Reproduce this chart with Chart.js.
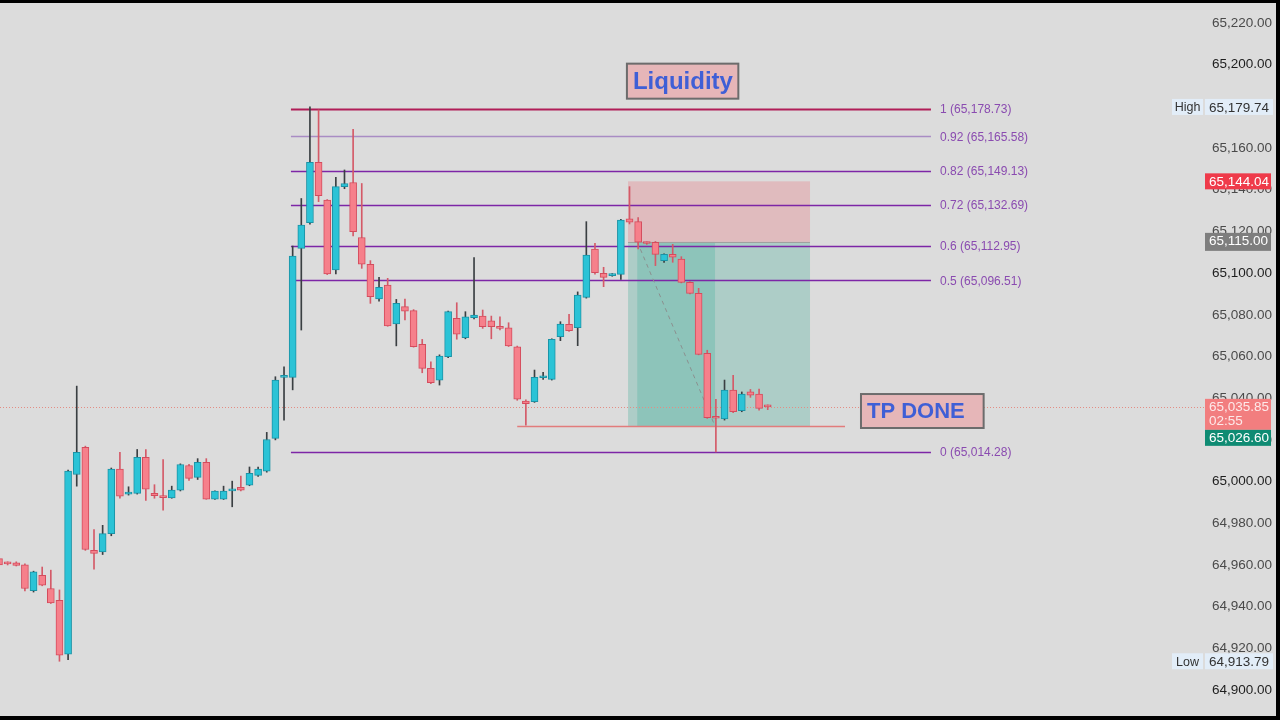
<!DOCTYPE html>
<html>
<head>
<meta charset="utf-8">
<script src="https://cdn.jsdelivr.net/npm/chart.js@4.4.1/dist/chart.umd.min.js"></script>
<style>
  html, body { margin: 0; padding: 0; background: #000; }
  #wrap { position: absolute; left: 0; top: 3px; width: 1276px; height: 713px; background: #dcdcdc; }
</style>
</head>
<body>
<div id="wrap"><canvas id="priceChart" width="1276" height="713"></canvas></div>
<script>
// candles, oldest first
const opens = [64963, 64961, 64961, 64960, 64947.6, 64955, 64948.7, 64943, 64917.2, 65003.4,
  65016.4, 64967, 64966.3, 64975, 65006, 64994, 64994.3, 65011.6, 64994.3, 64992.6,
  64992.2, 64995.9, 65007.7, 65002, 65009.2, 64991.6, 64991.6, 64995.5, 64997.2, 64998.3,
  65003, 65005, 65020.7, 65050, 65050, 65111.9, 65124.2, 65153.1, 65135, 65101.5,
  65141.5, 65143.5, 65117.1, 65104.2, 65087.6, 65094.3, 65075.6, 65083.9, 65082, 65065.8,
  65054.3, 65048.7, 65059.9, 65078.3, 65069, 65078.6, 65079.4, 65077.1, 65074.3, 65073.8,
  65064.7, 65038.6, 65038.3, 65049.8, 65049, 65069.5, 65075.4, 65073.8, 65088.4, 65111.6,
  65099.9, 65098.8, 65099.4, 65126, 65124.7, 65114.5, 65114.8, 65106, 65109, 65106.8,
  65095.6, 65090.3, 65061.5, 65030.8, 65030, 65043.9, 65034, 65043.1, 65042, 65036];
const highs = [64964, 64961.5, 64961.5, 64960.5, 64957, 64959, 64957.5, 64948, 65005.5, 65045.8,
  65017, 64977, 64979, 65006.5, 65014, 64997.5, 65015.4, 65015.4, 64998.5, 65010.6,
  64997.8, 65008.5, 65008.3, 65011, 65011, 64995.6, 64997.8, 65000.2, 65002.6, 65007,
  65007, 65023.6, 65050.3, 65055, 65113, 65135.8, 65179.74, 65178.3, 65135.3, 65146,
  65149.5, 65169, 65143, 65106, 65098, 65097.5, 65087.4, 65087.6, 65082.5, 65068.2,
  65057.5, 65060.8, 65081.8, 65085.8, 65081.5, 65107.5, 65082.3, 65079.4, 65079, 65076.2,
  65065, 65039.2, 65053.5, 65052.4, 65068.5, 65076.7, 65080.2, 65091, 65124.7, 65114.3,
  65102.8, 65099.8, 65125.8, 65141.5, 65126.6, 65115, 65115.2, 65109.3, 65113.8, 65107.9,
  65096, 65092.7, 65063, 65039.4, 65048.7, 65051, 65043, 65044.2, 65044.4, 65036.8];
const lows = [64959, 64960, 64959.5, 64947.5, 64947, 64950, 64941.5, 64913.79, 64914.5, 64997.8,
  64967, 64958, 64965, 64974, 64992, 64993.5, 64994, 64991, 64992, 64986.3,
  64992, 64995.5, 65000.5, 65001, 64991.5, 64991.4, 64991.4, 64987.9, 64995.5, 64998,
  65002.5, 65004.5, 65020, 65029.5, 65044, 65072.7, 65123.5, 65134.3, 65099.3, 65099.6,
  65140.5, 65117.8, 65102.3, 65085.5, 65086.6, 65074.5, 65065.1, 65077.5, 65064.5, 65052.2,
  65047, 65046.3, 65059.5, 65068.3, 65068.5, 65078, 65073.5, 65068.5, 65072.8, 65064.8,
  65039, 65027, 65038, 65049, 65048.7, 65067.6, 65072, 65065.2, 65088, 65099.5,
  65093.5, 65098.5, 65097, 65123.6, 65111.6, 65113.8, 65103.6, 65105.2, 65105.2, 65095.3,
  65090, 65060.8, 65030.3, 65014.28, 65029.5, 65033, 65033.5, 65040.4, 65034.3, 65034.5];
const closes = [64960, 64960.5, 64959.8, 64948.7, 64956.7, 64950.3, 64941.8, 64916.7, 65005, 65014,
  64967.4, 64965.5, 64975, 65006, 64993, 64995, 65011.6, 64996.4, 64993.2, 64992.3,
  64995.9, 65008.2, 65001.5, 65009.2, 64991.6, 64995.4, 64995.4, 64996, 64995.9, 65003.9,
  65006, 65020.2, 65048.7, 65050.5, 65108.2, 65123, 65153.1, 65137.2, 65099.6, 65141.5,
  65143, 65119.9, 65104.3, 65088.7, 65093.2, 65074.7, 65085.5, 65081.8, 65064.7, 65054.3,
  65047.5, 65060.2, 65081.5, 65070.7, 65079, 65079.9, 65074.3, 65074.3, 65073.5, 65065.1,
  65039.5, 65037.4, 65050, 65050.2, 65068.2, 65075.6, 65072.4, 65089.5, 65108.7, 65100.2,
  65098, 65099.2, 65125.5, 65124.4, 65114.8, 65114.2, 65109, 65109, 65107.6, 65095.6,
  65090.3, 65061, 65030.6, 65030.4, 65043.9, 65033.5, 65042, 65041.5, 65035.1, 65035.85];

// price axis
const tickValues = [65220, 65200, 65180, 65160, 65140, 65120, 65100, 65080, 65060, 65040,
  65020, 65000, 64980, 64960, 64940, 64920, 64900];

// fib retracement
const fibRatios = [1, 0.92, 0.82, 0.72, 0.6, 0.5, 0];
const fibPrices = [65178.73, 65165.58, 65149.13, 65132.69, 65112.95, 65096.51, 65014.28];

// short position
const stopPrice = 65144.04;
const entryPrice = 65115.00;
const targetPrice = 65026.60;
const lastPrice = 65035.85;
const countdown = '02:55';
const highPrice = 65179.74;
const lowPrice = 64913.79;

const upFill = '#2bc3d6', upLine = '#1b93a6', upWick = '#3a3f42';
const downFill = '#f6808b', downLine = '#d44c5d', downWick = '#d45a68';
const font = '"Liberation Sans", Arial, sans-serif';

const fmt = v => v.toFixed(2).replace(/\B(?=(\d{3})+(?!\d))/g, ',');
const isUp = i => closes[i] >= opens[i];

const overlays = {
  id: 'overlays',
  beforeDatasetsDraw(chart) {
    const { ctx, chartArea: a, scales: { x, y } } = chart;
    ctx.save();
    ctx.beginPath();
    ctx.rect(a.left, a.top, a.right - a.left, a.bottom - a.top);
    ctx.clip();

    // position zones
    const pl = x.getPixelForValue(72.83), pr = x.getPixelForValue(93.9);
    const ys = y.getPixelForValue(stopPrice), ye = y.getPixelForValue(entryPrice), yt = y.getPixelForValue(targetPrice);
    ctx.fillStyle = 'rgba(242, 54, 69, 0.2)';
    ctx.fillRect(pl, ys, pr - pl, ye - ys);
    ctx.fillStyle = 'rgba(8, 153, 129, 0.22)';
    ctx.fillRect(pl, ye, pr - pl, yt - ye);
    const hl = x.getPixelForValue(73.9), hr = x.getPixelForValue(82.9);
    ctx.fillStyle = 'rgba(8, 153, 129, 0.2)';
    ctx.fillRect(hl, ye, hr - hl, yt - ye);
    ctx.strokeStyle = '#a0a0a0';
    ctx.lineWidth = 1;
    ctx.beginPath();
    ctx.moveTo(pl, Math.round(ye) + 0.5);
    ctx.lineTo(pr, Math.round(ye) + 0.5);
    ctx.stroke();

    // fib lines
    const fl = x.getPixelForValue(33.8), fr = x.getPixelForValue(107.9);
    fibPrices.forEach((p, k) => {
      const py = Math.round(y.getPixelForValue(p)) + 0.5;
      ctx.strokeStyle = k === 0 ? '#b01d57' : (k === 1 ? '#a98cc4' : '#7d26a6');
      ctx.lineWidth = k === 0 ? 2 : 1.5;
      ctx.beginPath();
      ctx.moveTo(fl, py);
      ctx.lineTo(fr, py);
      ctx.stroke();
    });
    ctx.restore();

    ctx.save();
    // current price dotted line
    const yl = Math.round(y.getPixelForValue(lastPrice)) + 0.5;
    ctx.strokeStyle = '#e38d84';
    ctx.lineWidth = 1;
    ctx.setLineDash([1, 2]);
    ctx.beginPath();
    ctx.moveTo(a.left, yl);
    ctx.lineTo(a.right + 5, yl);
    ctx.stroke();
    ctx.setLineDash([]);

    // trend line at target
    ctx.strokeStyle = '#e27c7c';
    ctx.lineWidth = 1.5;
    ctx.beginPath();
    ctx.moveTo(x.getPixelForValue(60), Math.round(yt) + 0.5);
    ctx.lineTo(x.getPixelForValue(97.95), Math.round(yt) + 0.5);
    ctx.stroke();

    // path of the trade
    ctx.strokeStyle = '#8a8f8e';
    ctx.lineWidth = 1;
    ctx.setLineDash([4, 4]);
    ctx.beginPath();
    ctx.moveTo(x.getPixelForValue(73.9), ye);
    ctx.lineTo(x.getPixelForValue(82.9), yt);
    ctx.stroke();
    ctx.restore();
  },
  afterDatasetsDraw(chart) {
    const { ctx, scales: { x, y } } = chart;
    ctx.save();
    // fib labels
    ctx.font = '12px ' + font;
    ctx.fillStyle = '#8a4bb0';
    ctx.textAlign = 'left';
    ctx.textBaseline = 'middle';
    const lx = x.getPixelForValue(108.95);
    fibPrices.forEach((p, k) => {
      ctx.fillText(fibRatios[k] + ' (' + fmt(p) + ')', lx, y.getPixelForValue(p) + 1);
    });

    // note boxes
    const note = (text, i0, i1, p0, p1, size) => {
      const l = x.getPixelForValue(i0), r = x.getPixelForValue(i1);
      const t = y.getPixelForValue(p0), b = y.getPixelForValue(p1);
      ctx.fillStyle = '#e6b6b8';
      ctx.fillRect(l, t, r - l, b - t);
      ctx.strokeStyle = '#6c6c6c';
      ctx.lineWidth = 2;
      ctx.strokeRect(l, t, r - l, b - t);
      ctx.fillStyle = '#3f5fd6';
      ctx.font = 'bold ' + size + 'px ' + font;
      ctx.textBaseline = 'middle';
      ctx.fillText(text, l + 6, (t + b) / 2 + 1);
    };
    note('Liquidity', 72.7, 85.6, 65200.5, 65183.7, 24);
    note('TP DONE', 99.8, 114.0, 65042, 65025.7, 22);
    ctx.restore();
  },
  afterDraw(chart) {
    const { ctx, scales: { y } } = chart;
    ctx.save();
    ctx.textBaseline = 'middle';
    ctx.textAlign = 'left';
    const tag = (top, h, bg, lines, color) => {
      ctx.fillStyle = bg;
      ctx.fillRect(1205, top, 66, h);
      ctx.fillStyle = color;
      ctx.font = '13.5px ' + font;
      lines.forEach((s, k) => ctx.fillText(s, 1209, top + 8.5 + k * 14));
    };
    const hiY = y.getPixelForValue(highPrice), loY = y.getPixelForValue(lowPrice);
    [[hiY, 'High', highPrice], [loY, 'Low', lowPrice]].forEach(([py, name, v]) => {
      ctx.fillStyle = '#e2edf8';
      ctx.fillRect(1172, py - 8, 31, 16);
      ctx.fillRect(1205, py - 8, 68, 16);
      ctx.fillStyle = '#333';
      ctx.font = '12.5px ' + font;
      ctx.textAlign = 'center';
      ctx.fillText(name, 1187.5, py + 1);
      ctx.textAlign = 'left';
      ctx.font = '13.5px ' + font;
      ctx.fillText(fmt(v), 1209, py + 1);
    });
    tag(y.getPixelForValue(stopPrice) - 8, 16, '#ef3a4a', [fmt(stopPrice)], '#fff');
    tag(y.getPixelForValue(entryPrice) - 9, 18, '#7e7e7e', [fmt(entryPrice)], '#fff');
    const lastTop = y.getPixelForValue(lastPrice) - 8;
    tag(lastTop, 31, '#f27e7f', [fmt(lastPrice), countdown], '#fde9e9');
    tag(Math.max(y.getPixelForValue(targetPrice) - 8, lastTop + 31), 16, '#0f8b73', [fmt(targetPrice)], '#fff');
    ctx.restore();
  }
};

const ctx = document.getElementById('priceChart').getContext('2d');
new Chart(ctx, {
  type: 'bar',
  data: {
    datasets: [
      {
        label: 'body',
        data: opens.map((o, i) => ({ x: i, y: [o, closes[i]] })),
        backgroundColor: opens.map((_, i) => isUp(i) ? upFill : downFill),
        borderColor: opens.map((_, i) => isUp(i) ? upLine : downLine),
        borderWidth: 1,
        borderSkipped: false,
        barThickness: 7,
        minBarLength: 2,
        grouped: false,
        order: 1
      },
      {
        label: 'wick',
        data: lows.map((l, i) => ({ x: i, y: [l, highs[i]] })),
        backgroundColor: opens.map((_, i) => isUp(i) ? upWick : downWick),
        borderWidth: 0,
        barThickness: 1,
        minBarLength: 1,
        grouped: false,
        order: 2
      }
    ]
  },
  options: {
    responsive: false,
    animation: false,
    layout: { padding: 0, autoPadding: false },
    plugins: { legend: { display: false }, tooltip: { enabled: false } },
    scales: {
      x: { type: 'linear', offset: false, min: 0.116, max: 139.05, display: false },
      y: {
        position: 'right',
        min: 64887.53,
        max: 65229.6,
        afterBuildTicks: axis => { axis.ticks = tickValues.map(v => ({ value: v })); },
        afterFit: axis => {
          axis.width = 76;
          axis.paddingTop = 0;
          axis.paddingBottom = 0;
        },
        grid: { display: false, drawTicks: false },
        border: { display: false },
        ticks: {
          padding: 12,
          font: { family: font, size: 13.5 },
          color: c => (c.tick && c.tick.value % 100 === 0) ? '#1e1e1e' : '#4a4a4a',
          callback: v => fmt(v)
        }
      }
    }
  },
  plugins: [overlays]
});
</script>
</body>
</html>
